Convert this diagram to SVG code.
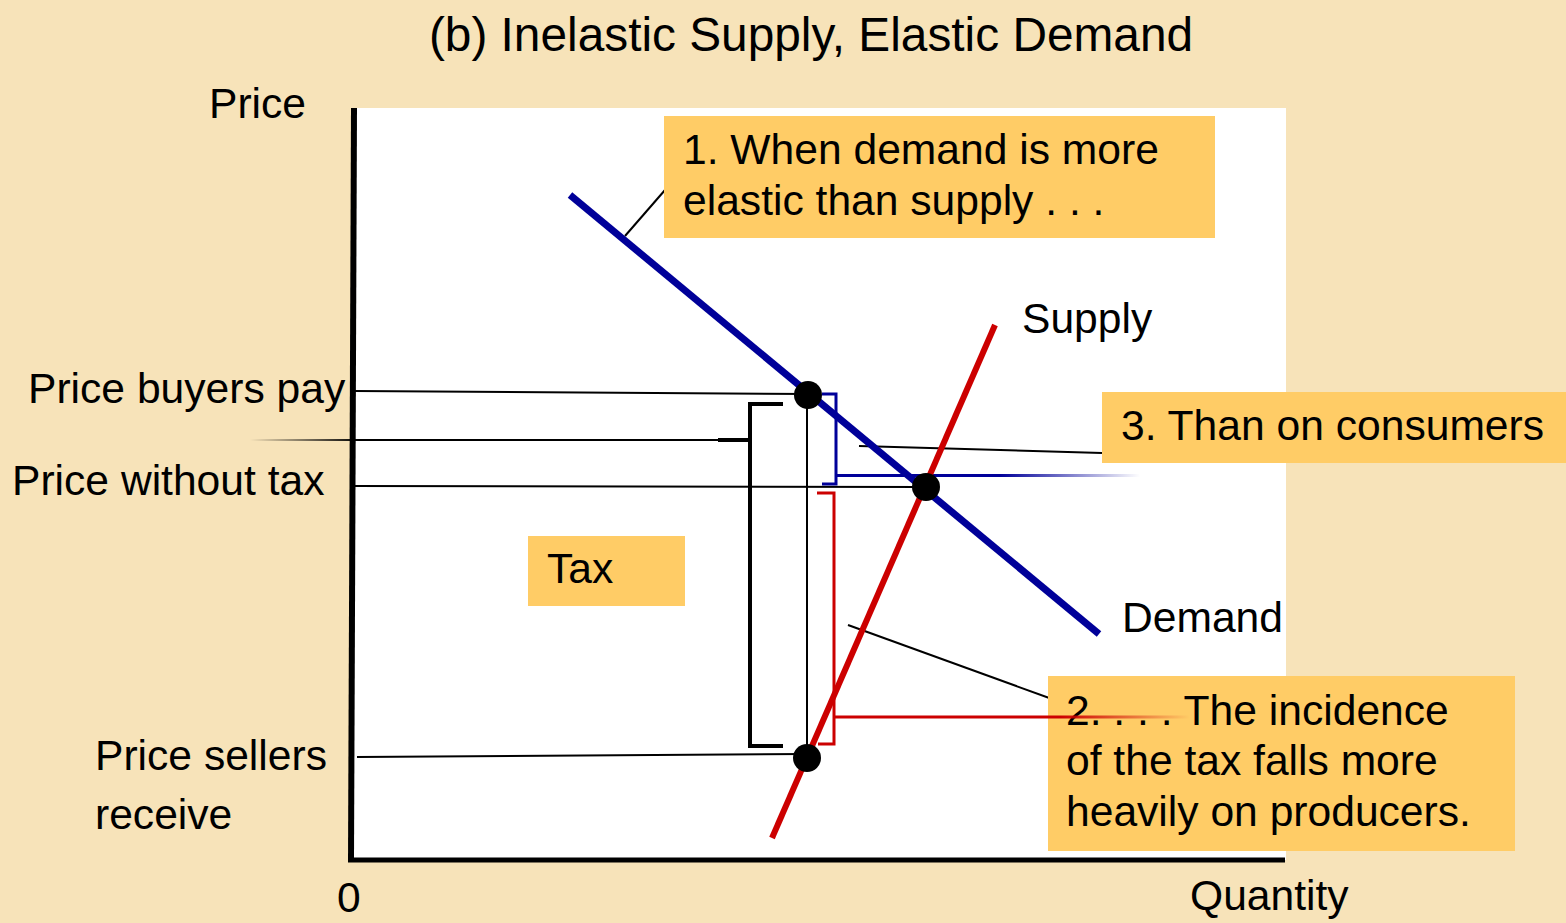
<svg xmlns="http://www.w3.org/2000/svg" width="1566" height="923" viewBox="0 0 1566 923">
<style>
text{font-family:"Liberation Sans",Arial,sans-serif;font-size:42.6px;fill:#000}
.title{font-size:47.8px}
.box{fill:#FFCC66}
.thin{stroke:#000;stroke-width:2;fill:none}
.br{stroke:#000;stroke-width:4;fill:none}
.blue{stroke:#000099;fill:none}
.red{stroke:#CC0000;fill:none}
</style>
<defs>
<linearGradient id="fadeL" gradientUnits="userSpaceOnUse" x1="250" y1="0" x2="360" y2="0">
<stop offset="0" stop-color="#000" stop-opacity="0"/><stop offset="1" stop-color="#000" stop-opacity="1"/>
</linearGradient>
<linearGradient id="fadeB" gradientUnits="userSpaceOnUse" x1="1000" y1="0" x2="1140" y2="0">
<stop offset="0" stop-color="#000099" stop-opacity="1"/><stop offset="1" stop-color="#000099" stop-opacity="0"/>
</linearGradient>
<linearGradient id="fadeR" gradientUnits="userSpaceOnUse" x1="1060" y1="0" x2="1190" y2="0">
<stop offset="0" stop-color="#CC0000" stop-opacity="1"/><stop offset="1" stop-color="#CC0000" stop-opacity="0"/>
</linearGradient>
</defs>
<rect width="1566" height="923" fill="#F7E3B9"/>
<rect id="panel" x="353" y="108" width="933" height="752" fill="#FFFFFF"/>
<text class="title" x="811" y="51" text-anchor="middle">(b) Inelastic Supply, Elastic Demand</text>

<g id="axes">
<line x1="354" y1="108" x2="351" y2="861" stroke="#000" stroke-width="6"/>
<line x1="348" y1="860" x2="1285" y2="860" stroke="#000" stroke-width="5"/>
<text x="209" y="118">Price</text>
<text x="337" y="912">0</text>
<text x="1190" y="910">Quantity</text>
</g>

<g id="connectors">
<line class="thin" x1="355" y1="391" x2="808" y2="394"/>
<line x1="250" y1="440" x2="720" y2="440" stroke="url(#fadeL)" stroke-width="2"/>
<line class="thin" x1="350" y1="486" x2="925" y2="487"/>
<line class="thin" x1="357" y1="757" x2="806" y2="754"/>
<line class="thin" x1="807" y1="395" x2="807" y2="758"/>
<path class="br" d="M783,404 H750 V746 H783 M718,440 H750"/>
<path class="blue" stroke-width="3" d="M822,394 H836 V484 H822"/>
<line x1="836" y1="475.5" x2="1140" y2="475.5" stroke="url(#fadeB)" stroke-width="3"/>
<line class="thin" x1="859" y1="446" x2="1102" y2="453"/>
<line class="thin" x1="665" y1="190" x2="625" y2="236"/>
<line class="thin" x1="848" y1="625" x2="1052" y2="699"/>
</g>

<g id="curves">
<line id="demand" x1="570" y1="195" x2="1099" y2="634" stroke="#000099" stroke-width="7"/>
<line id="supply" x1="772" y1="838" x2="995" y2="325" stroke="#CC0000" stroke-width="6"/>
</g>

<g id="dots">
<circle cx="808" cy="395" r="14"/>
<circle cx="926" cy="487" r="14"/>
<circle cx="807" cy="758" r="14"/>
</g>

<g id="labels">
<text x="28" y="403">Price buyers pay</text>
<text x="12" y="495">Price without tax</text>
<text x="95" y="770">Price sellers</text>
<text x="95" y="829">receive</text>
<text x="1022" y="333">Supply</text>
<text x="1122" y="632">Demand</text>
</g>

<g id="box1">
<rect class="box" x="664" y="116" width="551" height="122"/>
<text x="683" y="164">1. When demand is more</text>
<text x="683" y="215">elastic than supply . . .</text>
</g>

<g id="box3">
<rect class="box" x="1102" y="392" width="464" height="71"/>
<text x="1121" y="440">3. Than on consumers</text>
</g>

<g id="taxbox">
<rect class="box" x="528" y="536" width="157" height="70"/>
<text x="547" y="583">Tax</text>
</g>

<g id="box2">
<rect class="box" x="1048" y="676" width="467" height="175"/>
<text x="1066" y="725">2. . . . The incidence</text>
<text x="1066" y="775">of the tax falls more</text>
<text x="1066" y="826">heavily on producers.</text>
</g>

<g id="redbracket">
<path class="red" stroke-width="3" d="M817,493 H834 V744 H818"/>
<line x1="834" y1="717" x2="1190" y2="717" stroke="url(#fadeR)" stroke-width="3"/>
</g>
</svg>
